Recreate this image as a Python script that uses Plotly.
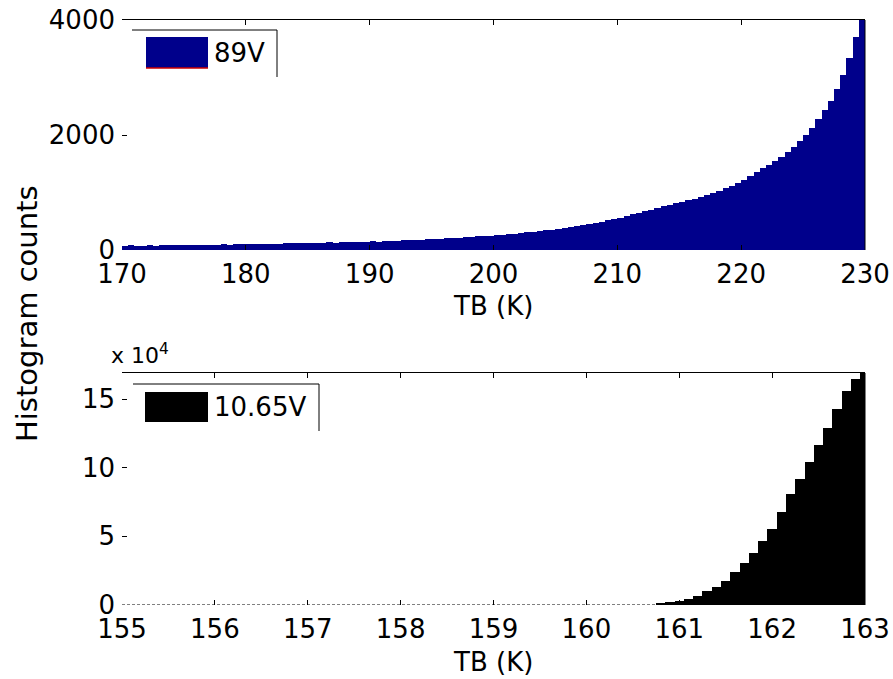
import plotly.graph_objects as go

# ---------------- data ----------------
# 89V histogram: counts in 0.5 K bins starting at 170 K
tb89_start = 170.0
tb89_binwidth = 0.5
counts_89v = [
    75, 80, 72, 78, 80, 76, 82, 80, 84, 82,
    88, 85, 90, 87, 92, 90, 96, 94, 100, 98,
    104, 102, 108, 106, 112, 110, 116, 114, 120, 118,
    125, 128, 126, 132, 130, 135, 134, 138, 140, 143,
    148, 146, 155, 158, 163, 169, 172, 178, 182, 186,
    190, 198, 203, 210, 214, 222, 228, 236, 244, 250,
    258, 266, 274, 285, 296, 313, 320, 330, 342, 356,
    368, 380, 396, 412, 428, 448, 470, 495, 517, 540,
    562, 590, 620, 645, 672, 700, 730, 765, 790, 815,
    840, 866, 892, 920, 955, 990, 1030, 1070, 1110, 1160,
    1215, 1285, 1350, 1420, 1480, 1550, 1620, 1700, 1790, 1890,
    2000, 2130, 2270, 2430, 2600, 2800, 3040, 3340, 3700, 4000,
]

# 10.65V histogram: counts (x 10^4) in 0.1 K bins, first non-empty bin centred at 160.8 K
tb1065_first_center = 160.8
tb1065_binwidth = 0.1
counts_1065v = [
    0.10, 0.22, 0.31, 0.46, 0.68, 1.00, 1.34, 1.78, 2.39, 3.07,
    3.81, 4.63, 5.56, 6.78, 8.07, 9.15, 10.44, 11.66, 12.93, 14.30,
    15.56, 16.47, 16.90,
]

x_ticks_top = [170, 180, 190, 200, 210, 220, 230]
y_ticks_top = [0, 2000, 4000]
x_ticks_bot = [155, 156, 157, 158, 159, 160, 161, 162, 163]
y_ticks_bot = [0, 5, 10, 15]
y_ticktext_bot = ["0", "5", "10", "15"]

NAVY = "#00008B"
FONT = "DejaVu Sans"

# ---------------- figure ----------------
W, H = 893, 679
ML, MR, MT, MB = 122, 28, 20, 74
PW = W - ML - MR
PH = H - MT - MB


def pxx(x):
    return (x - ML) / PW


def pxy(y):
    return (H - MB - y) / PH


top_dom = [pxy(250), 1.0]
bot_dom = [0.0, pxy(373)]

fig = go.Figure()
fig.add_trace(go.Bar(
    y=counts_89v, x0=tb89_start + tb89_binwidth / 2, dx=tb89_binwidth,
    width=tb89_binwidth, marker=dict(color=NAVY, line=dict(width=0)),
    xaxis="x", yaxis="y", name="89V"))
fig.add_trace(go.Bar(
    y=counts_1065v, x0=tb1065_first_center, dx=tb1065_binwidth,
    width=tb1065_binwidth, marker=dict(color="black", line=dict(width=0)),
    xaxis="x2", yaxis="y2", name="10.65V"))
# empty traces so the mirrored top axes are drawn
fig.add_trace(go.Scatter(x=[], y=[], xaxis="x3", yaxis="y", showlegend=False))
fig.add_trace(go.Scatter(x=[], y=[], xaxis="x4", yaxis="y2", showlegend=False))

tickfont = dict(family=FONT, size=26, color="black")
common = dict(showgrid=False, zeroline=False, ticks="inside", ticklen=5, automargin=False,
              tickwidth=1, tickcolor="black", tickfont=tickfont, showline=False)
xcommon = dict(common, ticklabelstandoff=6)
ycommon = dict(common, ticklabelstandoff=6)
topax = dict(showticklabels=False, showgrid=False, zeroline=False, ticks="inside", ticklen=5,
             tickcolor="black", showline=True, linecolor="black", linewidth=1, automargin=False)

fig.update_layout(
    width=W, height=H,
    margin=dict(l=ML, r=MR, t=MT, b=MB, pad=0),
    paper_bgcolor="white", plot_bgcolor="white",
    showlegend=False, bargap=0,
    xaxis=dict(domain=[0, 1], anchor="y", range=[170, 230], tickvals=x_ticks_top, **xcommon),
    yaxis=dict(domain=top_dom, anchor="x", range=[0, 4000], tickvals=y_ticks_top, **ycommon),
    xaxis2=dict(domain=[0, 1], anchor="y2", range=[155, 163], tickvals=x_ticks_bot, **xcommon),
    yaxis2=dict(domain=bot_dom, anchor="x2", range=[0, 16.9], tickvals=y_ticks_bot,
                ticktext=y_ticktext_bot, **ycommon),
    xaxis3=dict(overlaying="x", anchor="y", side="top", range=[170, 230], tickvals=x_ticks_top, **topax),
    xaxis4=dict(overlaying="x2", anchor="y2", side="top", range=[155, 163], tickvals=x_ticks_bot, **topax),
)

shapes = []
# right spines
for xd, yd in (("x domain", "y domain"), ("x2 domain", "y2 domain")):
    shapes.append(dict(type="line", xref=xd, yref=yd, x0=1, x1=1, y0=0, y1=1,
                       line=dict(color="black", width=1)))
# dashed baseline (empty bins) in lower panel
shapes.append(dict(type="line", xref="x2", yref="y2", x0=155,
                   x1=tb1065_first_center - tb1065_binwidth / 2, y0=0, y1=0,
                   line=dict(color="black", width=1, dash="3px,2px")))


def pline(x0, y0, x1, y1, color="black", width=1):
    shapes.append(dict(type="line", xref="paper", yref="paper",
                       x0=pxx(x0), y0=pxy(y0), x1=pxx(x1), y1=pxy(y1),
                       line=dict(color=color, width=width)))


def prect(x0, y0, x1, y1, color):
    shapes.append(dict(type="rect", xref="paper", yref="paper",
                       x0=pxx(x0), y0=pxy(y0), x1=pxx(x1), y1=pxy(y1),
                       fillcolor=color, line=dict(width=0)))


# legend 89V
pline(132, 30, 277, 30)
pline(277, 30, 277, 77)
prect(146, 37, 208, 68, NAVY)
pline(146, 68, 208, 68, color="#CC0000", width=1.5)
# legend 10.65V
pline(133, 384, 319, 384)
pline(319, 384, 319, 431)
prect(145, 392, 208, 422, "black")

fig.update_layout(shapes=shapes)

ann = []
ann.append(dict(text="89V", x=pxx(212), y=pxy(53), xanchor="left", yanchor="middle"))
ann.append(dict(text="10.65V", x=pxx(212), y=pxy(407), xanchor="left", yanchor="middle"))
ann.append(dict(text="TB (K)", x=pxx(493), y=pxy(306), xanchor="center", yanchor="middle"))
ann.append(dict(text="TB (K)", x=pxx(493), y=pxy(662), xanchor="center", yanchor="middle"))
ann.append(dict(text="Histogram counts", x=pxx(27), y=pxy(314), xanchor="center",
                yanchor="middle", textangle=-90, font=dict(family=FONT, size=29, color="black")))
ann.append(dict(text="x 10<sup>4</sup>", x=pxx(109), y=pxy(354), xanchor="left",
                yanchor="middle", font=dict(family=FONT, size=22, color="black")))
for a in ann:
    a.setdefault("font", dict(family=FONT, size=26, color="black"))
    a.update(xref="paper", yref="paper", showarrow=False)
fig.update_layout(annotations=ann)

fig.write_html("out.html", config={"displayModeBar": False},
               post_script="document.body.style.margin='0';document.body.style.overflow='hidden';")
